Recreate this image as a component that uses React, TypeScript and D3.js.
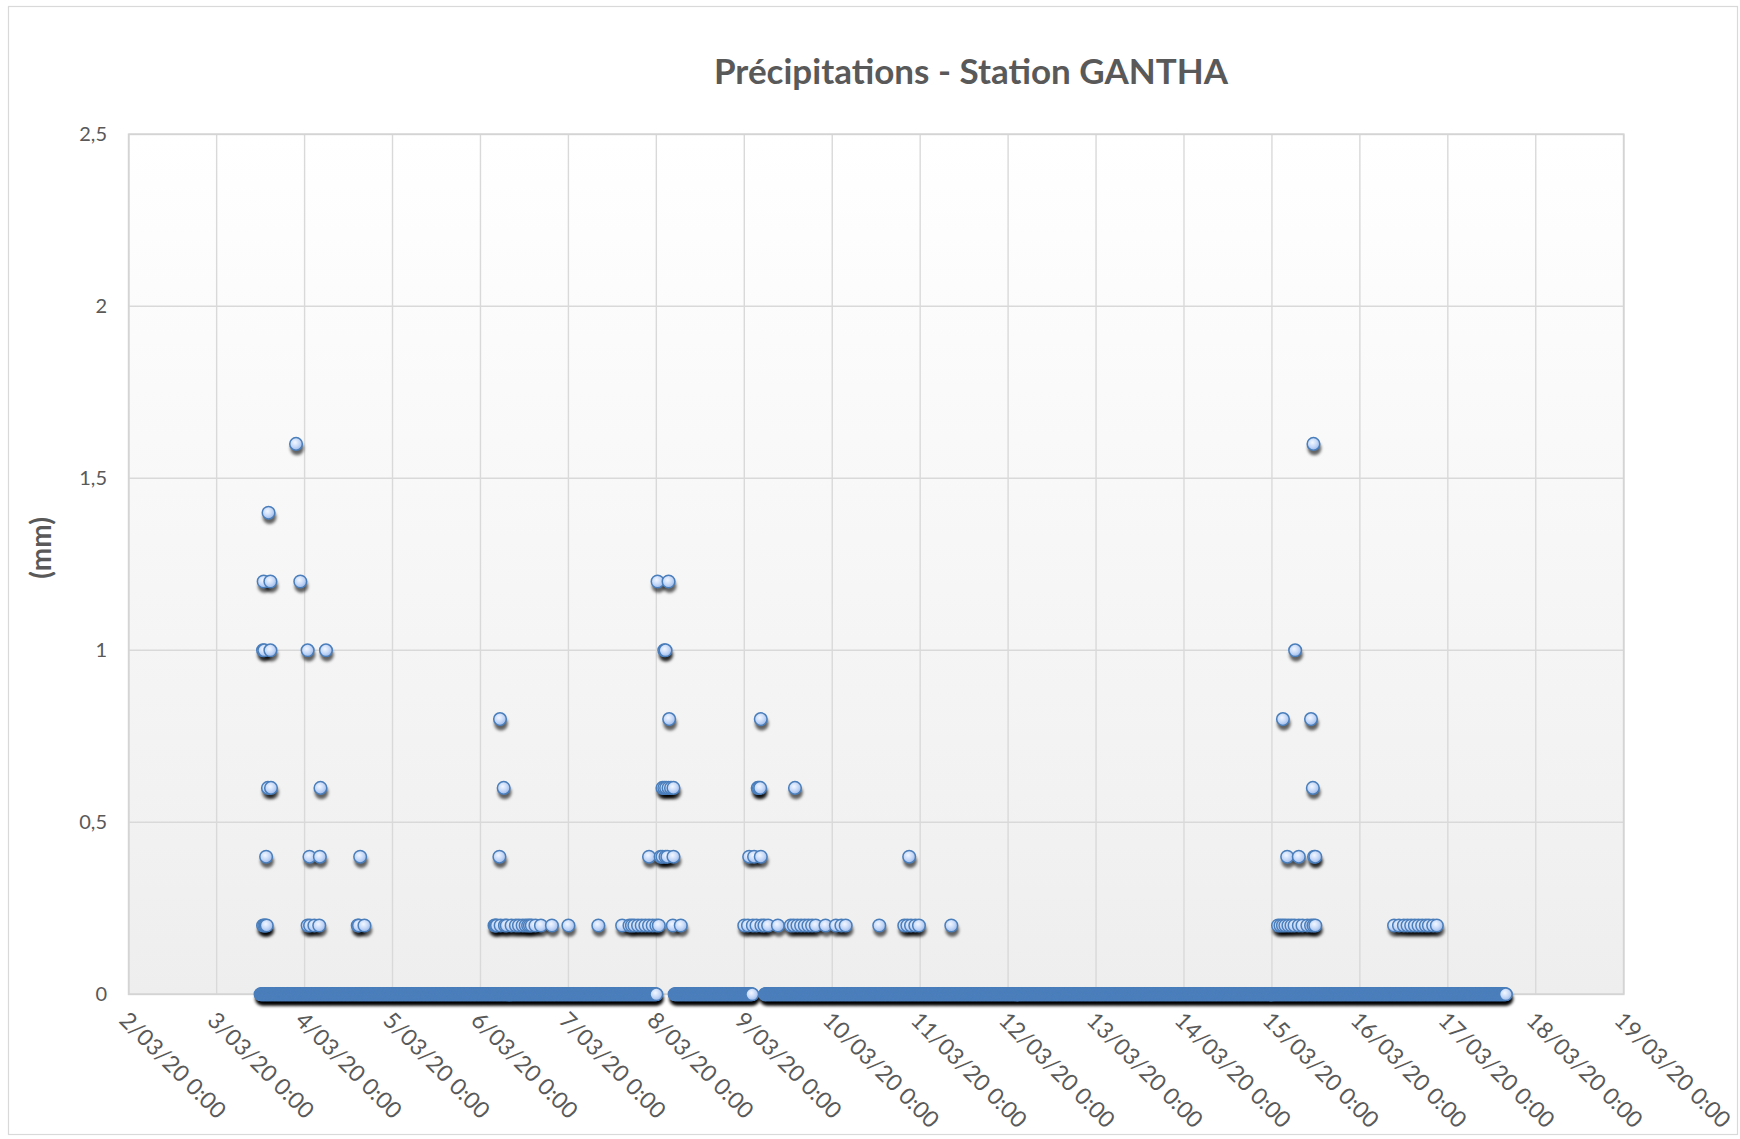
import React from "react";
import * as d3 from "d3";

const W = 1740;
const H = 1139;

const chartTitle = "Précipitations - Station GANTHA";
const yAxisTitle = "(mm)";
const yTicks = [0, 0.5, 1, 1.5, 2, 2.5];
const xDomain: [string, string] = ["02/03 00:00", "19/03 00:00"];

// recording interval of the station (minutes) and periods with 0 mm readings
const recordStepMinutes = 10;
const zeroPeriods: [string, string][] = [
  ["03/03 12:00", "08/03 00:00"],
  ["08/03 05:00", "09/03 02:10"],
  ["09/03 05:40", "17/03 15:50"],
];

// non-zero readings [time, mm]
const rainEpisode1: [string, number][] = [
  ["03/03 12:40", 0.2], ["03/03 13:00", 0.2], ["03/03 13:20", 0.2], ["03/03 13:40", 0.2],
  ["03/03 13:30", 0.4],
  ["03/03 14:00", 0.6], ["03/03 14:50", 0.6],
  ["03/03 12:40", 1.0], ["03/03 13:00", 1.0], ["03/03 14:40", 1.0],
  ["03/03 12:50", 1.2], ["03/03 14:40", 1.2],
  ["03/03 14:10", 1.4],
  ["03/03 21:40", 1.6],
  ["03/03 22:50", 1.2],
  ["04/03 00:50", 1.0], ["04/03 05:50", 1.0],
  ["04/03 04:20", 0.6],
  ["04/03 01:20", 0.4], ["04/03 04:10", 0.4],
  ["04/03 00:50", 0.2], ["04/03 01:30", 0.2], ["04/03 02:40", 0.2], ["04/03 04:00", 0.2],
  ["04/03 15:10", 0.4],
  ["04/03 14:30", 0.2], ["04/03 14:50", 0.2], ["04/03 16:20", 0.2],
];

const rainEpisode2: [string, number][] = [
  ["06/03 05:20", 0.8], ["06/03 06:20", 0.6], ["06/03 05:10", 0.4],
  ["06/03 03:50", 0.2], ["06/03 04:10", 0.2], ["06/03 04:30", 0.2], ["06/03 05:30", 0.2],
  ["06/03 06:40", 0.2], ["06/03 07:10", 0.2], ["06/03 08:30", 0.2], ["06/03 09:40", 0.2],
  ["06/03 10:30", 0.2], ["06/03 11:30", 0.2], ["06/03 12:20", 0.2], ["06/03 13:00", 0.2],
  ["06/03 13:30", 0.2], ["06/03 14:00", 0.2], ["06/03 15:00", 0.2], ["06/03 16:30", 0.2],
  ["06/03 19:30", 0.2], ["07/03 00:00", 0.2], ["07/03 08:10", 0.2],
  ["07/03 14:40", 0.2], ["07/03 16:40", 0.2], ["07/03 17:20", 0.2], ["07/03 18:00", 0.2],
  ["07/03 19:00", 0.2], ["07/03 20:00", 0.2], ["07/03 21:00", 0.2], ["07/03 22:00", 0.2],
  ["07/03 23:00", 0.2], ["08/03 00:00", 0.2], ["08/03 00:40", 0.2],
  ["08/03 04:30", 0.2], ["08/03 06:40", 0.2],
  ["07/03 22:00", 0.4], ["08/03 01:10", 0.4], ["08/03 01:40", 0.4], ["08/03 02:30", 0.4],
  ["08/03 03:00", 0.4], ["08/03 04:40", 0.4],
  ["08/03 01:40", 0.6], ["08/03 02:10", 0.6], ["08/03 02:40", 0.6], ["08/03 03:20", 0.6],
  ["08/03 04:00", 0.6], ["08/03 04:40", 0.6],
  ["08/03 03:30", 0.8],
  ["08/03 02:10", 1.0], ["08/03 02:30", 1.0],
  ["08/03 00:20", 1.2], ["08/03 03:20", 1.2],
];

const rainEpisode3: [string, number][] = [
  ["09/03 04:30", 0.8],
  ["09/03 03:40", 0.6], ["09/03 04:00", 0.6], ["09/03 04:20", 0.6], ["09/03 13:50", 0.6],
  ["09/03 01:20", 0.4], ["09/03 02:40", 0.4], ["09/03 04:30", 0.4],
  ["09/03 00:00", 0.2], ["09/03 01:00", 0.2], ["09/03 02:20", 0.2], ["09/03 03:20", 0.2],
  ["09/03 04:40", 0.2], ["09/03 05:30", 0.2], ["09/03 06:30", 0.2], ["09/03 09:10", 0.2],
  ["09/03 12:40", 0.2], ["09/03 13:30", 0.2], ["09/03 14:30", 0.2], ["09/03 15:30", 0.2],
  ["09/03 16:30", 0.2], ["09/03 17:30", 0.2], ["09/03 18:30", 0.2], ["09/03 19:30", 0.2],
  ["09/03 22:10", 0.2], ["10/03 01:00", 0.2], ["10/03 02:30", 0.2], ["10/03 03:40", 0.2],
  ["10/03 12:50", 0.2],
  ["10/03 19:40", 0.2], ["10/03 20:30", 0.2], ["10/03 21:30", 0.2], ["10/03 22:40", 0.2],
  ["10/03 23:40", 0.2],
  ["10/03 21:00", 0.4],
  ["11/03 08:30", 0.2],
];

const rainEpisode4: [string, number][] = [
  ["15/03 11:20", 1.6],
  ["15/03 06:20", 1.0],
  ["15/03 03:00", 0.8], ["15/03 10:40", 0.8],
  ["15/03 11:10", 0.6],
  ["15/03 04:10", 0.4], ["15/03 07:20", 0.4], ["15/03 11:30", 0.4], ["15/03 11:50", 0.4],
  ["15/03 01:40", 0.2], ["15/03 02:20", 0.2], ["15/03 03:00", 0.2], ["15/03 03:40", 0.2],
  ["15/03 04:30", 0.2], ["15/03 05:20", 0.2], ["15/03 06:10", 0.2], ["15/03 07:20", 0.2],
  ["15/03 08:20", 0.2], ["15/03 09:40", 0.2], ["15/03 10:40", 0.2], ["15/03 11:20", 0.2],
  ["15/03 11:50", 0.2],
  ["16/03 09:20", 0.2], ["16/03 10:40", 0.2], ["16/03 12:00", 0.2], ["16/03 13:00", 0.2],
  ["16/03 14:00", 0.2], ["16/03 15:00", 0.2], ["16/03 16:00", 0.2], ["16/03 17:00", 0.2],
  ["16/03 18:00", 0.2], ["16/03 18:50", 0.2], ["16/03 20:00", 0.2], ["16/03 21:00", 0.2],
];

const parseRaw = d3.utcParse("%Y %d/%m %H:%M");
const parse = (s: string): Date => parseRaw("2020 " + s) as Date;

const frLocale = d3.formatLocale({
  decimal: ",",
  thousands: " ",
  grouping: [3],
  currency: ["", " €"],
});
const yFmt = frLocale.format("~g");
const xFmt = d3.utcFormat("%-d/%m/%y %-H:%M");

const PLOT = { left: 128.7, right: 1623.7, top: 134.3, bottom: 994.3 };
const TEXT = "#595959";
const FONT = "Lato, 'Open Sans', sans-serif";

type Pt = { t: Date; v: number };

export default function App() {
  const x = d3
    .scaleUtc()
    .domain([parse(xDomain[0]), parse(xDomain[1])])
    .range([PLOT.left, PLOT.right]);
  const y = d3.scaleLinear().domain([0, 2.5]).range([PLOT.bottom, PLOT.top]);

  const [d0, d1] = x.domain();
  const xTicks = d3.utcDay.range(d0, d3.utcDay.offset(d1, 1));

  const zeroPts: Pt[] = [];
  zeroPeriods.forEach(([a, b]) => {
    const start = parse(a);
    const end = d3.utcMinute.offset(parse(b), 1);
    d3.utcMinute
      .every(recordStepMinutes)!
      .range(start, end)
      .forEach((t) => zeroPts.push({ t, v: 0 }));
  });
  const rainPts: Pt[] = [
    ...rainEpisode1,
    ...rainEpisode2,
    ...rainEpisode3,
    ...rainEpisode4,
  ].map(([s, v]) => ({ t: parse(s), v }));
  const points = [...zeroPts, ...rainPts].sort(
    (a, b) => a.t.getTime() - b.t.getTime()
  );

  const R = 6.3;

  return (
    <svg
      width={W}
      height={H}
      style={{ position: "absolute", left: 0, top: 0, display: "block", background: "#fff" }}
      fontFamily={FONT}
    >
      <defs>
        <linearGradient id="plotBg" x1="0" y1="0" x2="0" y2="1">
          <stop offset="0%" stopColor="#ffffff" />
          <stop offset="100%" stopColor="#eeeeee" />
        </linearGradient>
        <radialGradient id="mk" cx="42%" cy="38%" r="62%">
          <stop offset="0%" stopColor="#f2f7ff" />
          <stop offset="55%" stopColor="#c8daf8" />
          <stop offset="100%" stopColor="#9dbaea" />
        </radialGradient>
        <filter id="shadowBlur" x="-5%" y="-5%" width="110%" height="110%">
          <feGaussianBlur stdDeviation="1.8" />
        </filter>
      </defs>

      <rect x={8.5} y={6.5} width={1729} height={1128} fill="#fff" stroke="#d9d9d9" strokeWidth={1.2} />

      <text
        x={971}
        y={84}
        textAnchor="middle"
        fontSize={35}
        fontWeight={700}
        fill={TEXT}
      >
        {chartTitle}
      </text>

      <rect
        x={PLOT.left}
        y={PLOT.top}
        width={PLOT.right - PLOT.left}
        height={PLOT.bottom - PLOT.top}
        fill="url(#plotBg)"
      />

      {yTicks.map((v) => (
        <line
          key={"hy" + v}
          x1={PLOT.left}
          x2={PLOT.right}
          y1={y(v)}
          y2={y(v)}
          stroke="#d9d9d9"
          strokeWidth={1.4}
        />
      ))}
      {xTicks.map((d) => (
        <line
          key={"vx" + d.getTime()}
          x1={x(d)}
          x2={x(d)}
          y1={PLOT.top}
          y2={PLOT.bottom}
          stroke="#d9d9d9"
          strokeWidth={1.4}
        />
      ))}
      <rect
        x={PLOT.left}
        y={PLOT.top}
        width={PLOT.right - PLOT.left}
        height={PLOT.bottom - PLOT.top}
        fill="none"
        stroke="#d4d4d4"
        strokeWidth={1.8}
      />

      {yTicks.map((v) => (
        <text
          key={"ty" + v}
          x={107}
          y={y(v)}
          dy="0.35em"
          textAnchor="end"
          fontSize={20}
          fill={TEXT}
        >
          {yFmt(v)}
        </text>
      ))}

      <text
        transform={`translate(41, 548) rotate(-90)`}
        textAnchor="middle"
        dy="0.35em"
        fontSize={28}
        fontWeight={700}
        fill={TEXT}
      >
        {yAxisTitle}
      </text>

      {xTicks.map((d) => (
        <text
          key={"tx" + d.getTime()}
          transform={`translate(${x(d) - 5}, 1016) rotate(45)`}
          dy="0.35em"
          textAnchor="start"
          fontSize={23}
          fill={TEXT}
        >
          {xFmt(d)}
        </text>
      ))}

      <g filter="url(#shadowBlur)">
        {points.map((p, i) => (
          <circle
            key={"s" + i}
            cx={x(p.t) + 1}
            cy={y(p.v) + 4.5}
            r={R + 0.5}
            fill="#000"
            fillOpacity={0.6}
          />
        ))}
      </g>
      <g>
        {points.map((p, i) => (
          <circle
            key={"c" + i}
            cx={x(p.t)}
            cy={y(p.v)}
            r={R}
            fill="url(#mk)"
            stroke="#4a7ebb"
            strokeWidth={1.5}
          />
        ))}
      </g>
    </svg>
  );
}
